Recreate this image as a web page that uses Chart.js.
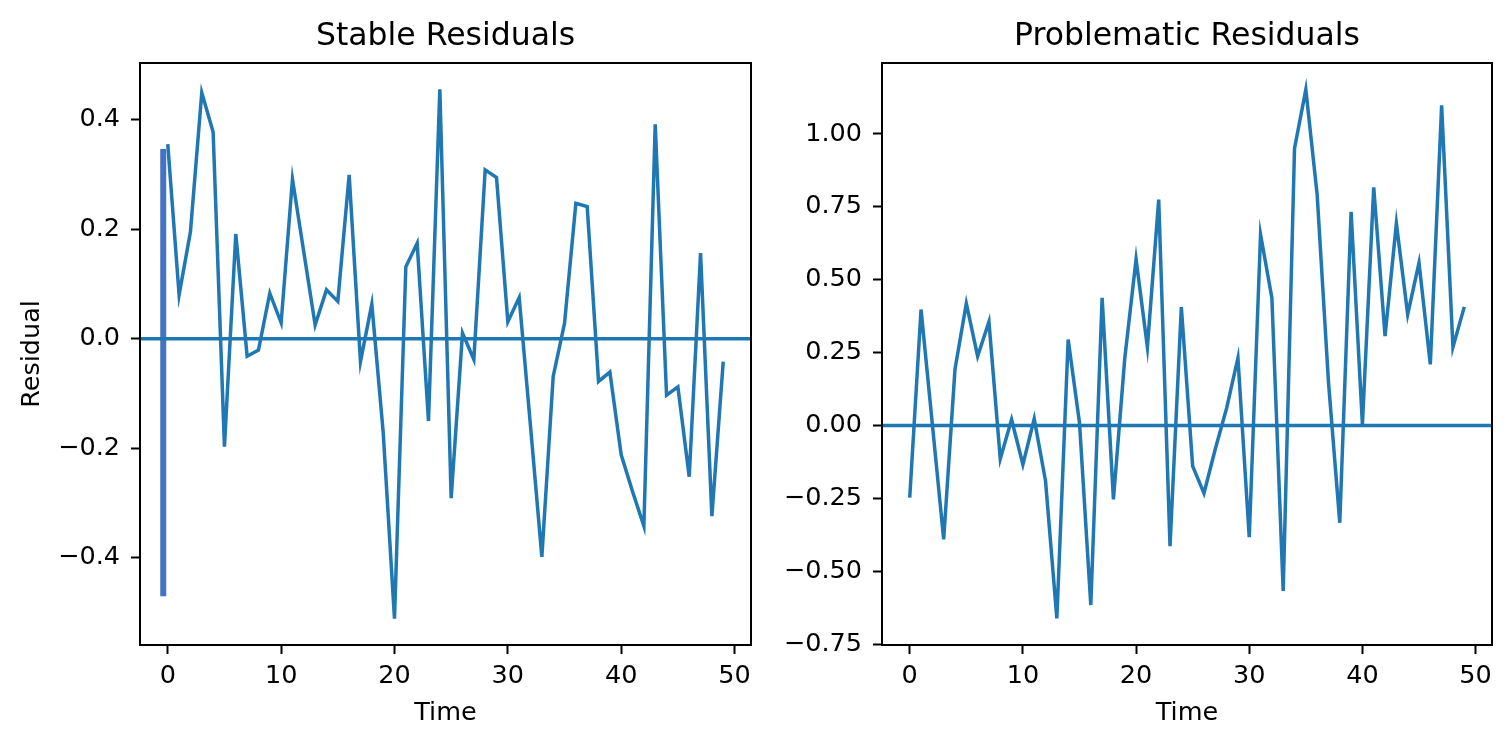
<!DOCTYPE html>
<html>
<head>
<meta charset="utf-8">
<script src="https://cdn.jsdelivr.net/npm/chart.js@4.4.1/dist/chart.umd.min.js"></script>
<style>
  html, body { margin: 0; padding: 0; background: #fff; }
  body { width: 1510px; height: 746px; position: relative; overflow: hidden; }
  canvas { position: absolute; top: 0; }
</style>
</head>
<body>
<canvas id="stable" width="760" height="746" style="left:0px"></canvas>
<canvas id="problem" width="750" height="746" style="left:760px"></canvas>
<script>
// time index along the x-axis
var time = [0,1,2,3,4,5,6,7,8,9,10,11,12,13,14,15,16,17,18,19,20,21,22,23,24,
            25,26,27,28,29,30,31,32,33,34,35,36,37,38,39,40,41,42,43,44,45,46,47,48,49];
// residuals
var stableResiduals = [0.355,0.080,0.195,0.449,0.377,-0.197,0.191,-0.032,-0.021,0.083,
                       0.029,0.291,0.158,0.025,0.089,0.068,0.299,-0.042,0.063,-0.170,
                       -0.511,0.131,0.174,-0.150,0.455,-0.291,0.010,-0.038,0.308,0.294,
                       0.031,0.075,-0.160,-0.398,-0.069,0.028,0.247,0.241,-0.078,-0.061,
                       -0.212,-0.279,-0.342,0.391,-0.103,-0.088,-0.252,0.156,-0.324,-0.042];
var problematicResiduals = [-0.247,0.398,0.004,-0.390,0.193,0.419,0.238,0.356,-0.114,0.021,
                            -0.133,0.023,-0.190,-0.661,0.295,0.010,-0.615,0.438,-0.253,0.230,
                            0.570,0.269,0.775,-0.413,0.406,-0.139,-0.232,-0.080,0.060,0.232,
                            -0.382,0.655,0.438,-0.567,0.950,1.152,0.792,0.150,-0.333,0.733,
                            0.004,0.817,0.307,0.693,0.381,0.558,0.210,1.098,0.269,0.407];
// the thick bar near x=0 on the left panel
var markX = [-0.4, -0.4];
var markY = [0.346, -0.470];
// zero reference line
var zeroX = [-2.45, 51.45];
var zeroY = [0, 0];
// tick labels
var xTicks = [0, 10, 20, 30, 40, 50];
var stableTicks = [-0.4, -0.2, 0.0, 0.2, 0.4];
var problemTicks = [-0.75, -0.5, -0.25, 0.0, 0.25, 0.5, 0.75, 1.0];

Chart.defaults.font.family = 'DejaVu Sans';
Chart.defaults.color = '#000';

function pts(xs, ys) {
  return xs.map(function (x, i) { return {x: x, y: ys[i]}; });
}

// draws the axes box and the panel title
var frame = {
  id: 'frame',
  afterDraw: function (chart, args, opts) {
    var a = chart.chartArea, ctx = chart.ctx;
    ctx.save();
    ctx.strokeStyle = '#000';
    ctx.lineWidth = 2;
    ctx.strokeRect(a.left, a.top, a.right - a.left, a.bottom - a.top);
    ctx.fillStyle = '#000';
    ctx.font = '31.5px "DejaVu Sans"';
    ctx.textAlign = 'center';
    ctx.textBaseline = 'alphabetic';
    ctx.fillText(opts.text, (a.left + a.right) / 2, 45);
    ctx.restore();
  }
};

function residualChart(id, values, extra, yMin, yMax, yTicks, digits, title, yLabel, yWidth, padRight) {
  var datasets = [
    { data: pts(time, values), borderColor: '#1f77b4', borderWidth: 3.5, pointRadius: 0, fill: false, tension: 0 },
    { data: pts(zeroX, zeroY), borderColor: '#1f77b4', borderWidth: 3.5, pointRadius: 0, fill: false }
  ].concat(extra);
  var tickFont = { family: 'DejaVu Sans', size: 25.5 };
  return new Chart(document.getElementById(id), {
    type: 'line',
    data: { datasets: datasets },
    plugins: [frame],
    options: {
      responsive: false,
      animation: false,
      devicePixelRatio: 1,
      events: [],
      layout: { padding: { top: 63, right: padRight, left: 0, bottom: 0 } },
      plugins: {
        legend: { display: false },
        tooltip: { enabled: false },
        frame: { text: title }
      },
      scales: {
        x: {
          type: 'linear', min: -2.45, max: 51.45,
          afterBuildTicks: function (s) { s.ticks = xTicks.map(function (v) { return {value: v}; }); },
          afterFit: function (s) { s.height = 101; },
          grid: { drawOnChartArea: false, drawTicks: true, tickLength: 9, tickWidth: 2, tickColor: '#000' },
          border: { display: false },
          ticks: { color: '#000', font: tickFont, padding: 7, maxRotation: 0, autoSkip: false },
          title: { display: true, text: 'Time', color: '#000', font: tickFont, padding: { top: 0, bottom: 17 } }
        },
        y: {
          type: 'linear', min: yMin, max: yMax,
          afterBuildTicks: function (s) { s.ticks = yTicks.map(function (v) { return {value: v}; }); },
          afterFit: function (s) { s.width = yWidth; },
          grid: { drawOnChartArea: false, drawTicks: true, tickLength: 9, tickWidth: 2, tickColor: '#000' },
          border: { display: false },
          ticks: {
            color: '#000', font: tickFont, padding: 11, autoSkip: false,
            callback: function (v) { return Number(v).toFixed(digits).replace('-', '\u2212'); }
          },
          title: { display: yLabel !== '', text: yLabel, color: '#000', font: tickFont, padding: { top: 17, bottom: 0 } }
        }
      }
    }
  });
}

residualChart('stable', stableResiduals,
  [{ data: pts(markX, markY), borderColor: '#4472c4', borderWidth: 6, pointRadius: 0, fill: false, borderCapStyle: 'butt' }],
  -0.559, 0.503, stableTicks, 1, 'Stable Residuals', 'Residual', 140, 9);

residualChart('problem', problematicResiduals, [],
  -0.752, 1.243, problemTicks, 2, 'Problematic Residuals', '', 122, 18);
</script>
</body>
</html>
